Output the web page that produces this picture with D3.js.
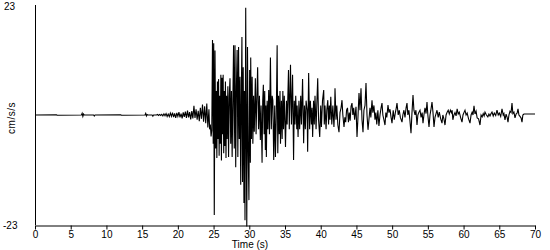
<!DOCTYPE html>
<html><head><meta charset="utf-8">
<script src="https://cdn.jsdelivr.net/npm/d3@7"></script>
<style>
body{margin:0;background:#fff;}
svg text{font-family:"Liberation Sans",Arial,sans-serif;font-size:10px;fill:#000;}
</style></head>
<body><svg id="c" width="550" height="250"></svg>
<script>
const xTicks = [0,5,10,15,20,25,30,35,40,45,50,55,60,65,70];
const yLabels = ["23","-23"];
const xTitle = "Time (s)";
const yTitle = "cm/s/s";

const times = [
0,3.0,3.1,6.5,6.6,6.7,6.8,6.9,8.2,8.3,8.4,12.0,12.1,15.4,15.5,15.6,15.7,15.8,16.4,16.5,16.6,17.0,
17.15,17.3,17.45,17.6,17.75,17.9,18.05,18.2,18.35,18.5,18.65,18.8,18.95,19.1,19.25,19.4,19.55,19.7,19.85,20.0,20.15,20.3,20.45,20.6,20.75,20.9,21.05,21.2,21.35,21.5,21.65,21.8,21.95,22.1,22.25,22.4,22.55,22.7,22.85,23.0,23.15,23.3,23.45,23.6,23.75,23.9,24.05,24.2,24.35,24.45,24.55,24.65,24.75,
24.85,24.95,25.02,25.1,25.2,25.3,25.38,25.46,25.54,25.62,25.7,25.78,25.86,25.94,26.02,26.1,26.18,26.26,26.34,26.42,26.5,26.58,26.66,26.74,26.82,
26.9,27.0,27.1,27.2,27.3,27.4,27.5,27.6,27.7,27.8,27.9,28.0,28.1,28.2,28.3,28.4,28.5,28.6,28.7,28.8,28.9,28.97,29.05,29.15,29.25,29.32,29.4,29.5,29.6,29.65,29.75,29.85,29.95,30.05,30.15,30.2,30.3,30.4,
30.5,30.6,30.7,30.85,30.95,31.05,31.17,31.3,31.42,31.55,31.65,31.79,31.88,31.97,32.08,32.16,32.25,32.32,32.39,32.5,32.6,32.72,32.82,32.96,33.08,33.2,33.3,33.42,33.56,33.66,33.78,33.9,33.99,34.1,34.2,34.3,34.37,34.5,34.6,34.7,34.79,34.9,35.07,35.2,35.3,35.49,35.6,35.77,35.9,36.06,36.2,36.3,36.4,36.5,36.65,36.7,36.83,36.95,37.05,37.2,37.3,37.46,37.61,37.72,37.85,37.95,38.1,38.17,38.31,38.45,38.55,38.7,38.78,38.87,39.0,39.1,39.2,39.35,39.45,39.58,39.7,39.86,40.0,40.1,40.25,40.42,40.5,40.6,40.75,40.85,40.99,41.1,41.2,41.3,41.41,41.55,41.7,41.85,41.95,
42.0,42.14,42.25,42.4,42.56,42.7,42.85,42.98,43.1,43.26,43.38,43.5,43.62,43.75,43.88,44.0,44.12,44.25,44.38,44.5,44.62,44.75,44.94,45.08,45.2,45.36,45.5,45.64,45.78,45.92,46.05,46.2,46.34,46.48,46.62,46.75,46.9,47.02,47.18,47.3,47.45,47.6,47.72,47.85,48.0,48.15,48.3,48.45,48.58,48.7,48.85,49.0,49.12,49.25,49.42,49.55,49.7,49.85,49.98,50.15,50.3,50.45,50.58,50.68,50.85,51.0,51.15,51.38,51.5,51.65,51.8,51.95,52.08,52.2,52.35,52.48,52.64,52.76,52.92,53.05,53.2,53.33,53.48,53.6,53.72,53.9,54.05,54.2,54.32,54.45,54.6,54.75,54.88,55.0,55.16,55.3,55.42,55.58,55.72,55.86,
56.0,56.15,56.28,56.45,56.6,56.8,56.98,57.1,57.25,57.4,57.55,57.7,57.85,58.0,58.15,58.3,58.4,58.5,58.65,58.8,58.95,59.1,59.25,59.4,59.6,59.78,59.92,60.05,60.2,60.35,60.5,60.7,60.9,61.05,61.2,61.32,61.46,61.6,61.75,61.9,62.1,62.3,62.45,62.6,62.75,62.88,63.0,63.2,63.4,63.55,63.7,63.85,63.98,64.15,64.3,64.5,64.68,64.85,65.0,65.2,65.38,65.55,65.65,65.8,65.95,66.1,66.22,66.35,66.5,66.65,66.78,66.9,67.05,67.2,67.35,67.5,67.62,67.75,67.9,68.05,68.18,68.3,68.45,68.6,70.0
];

const accel = [
0,0.05,-0.05,0,0.35,-0.3,0.2,0,0,-0.2,0,0.05,-0.05,0,0.35,-0.2,0.1,0,0,-0.25,0,0,
0.1,-0.1,0.12,-0.08,0.15,-0.2,0.25,-0.15,0.3,-0.3,0.2,-0.35,0.4,-0.3,0.5,-0.45,0.35,-0.6,0.45,-0.3,0.6,-0.5,0.3,-0.7,0.55,-0.4,0.7,-0.6,0.9,-0.5,0.6,-0.9,0.8,-0.7,1.9,-0.6,1.2,-1.0,0.9,-1.3,1.5,-0.8,2.2,-1.4,1.8,-1.7,2.4,-2.6,1.2,-3.0,-2.0,-4.5,-3.2,
15.7,-6,15,-20.9,13.5,-7,5,-9,7,-5,7.5,-8.5,4,-6,8.4,-9.5,7.8,-4,8.4,-8,5,-6.5,7,-9,4,
-5,6,-8.8,4,7.7,-6,5,-8.8,3,14.6,-7,14.6,-10.9,6,13.6,-8.8,14.2,-5,8,-14.6,6,16.3,-14,10,-18.4,5,-22,22.4,-10,-23.3,14.2,-8,-17.8,9.4,-10,12,-5,8,
-6,4,-3.5,7.7,-4,3,10,-3,4,-5.2,2,-10,3,6.3,-4,5,-7.3,2,-8.8,3,-3,5.2,-4,12,-3,4,3,-9.4,2,-8.8,0,14.6,-8,4,-4,5,-6,3,-5,5,-3,4,-6.7,3,-2,9.4,-3,10.5,-2,8.4,-9.4,3,-2,4,-3,2,-4.6,3,-3,4,-2,7.5,-5.9,2,-3,3,1,-7.7,8.8,-3,3,-2,1.5,-4.6,3,-2,4,-3,2,7.7,-1,-4.6,2,-2.5,3,5.2,-2,2,-3,1,3.1,-2,2,-1,3.8,-2,2,-2.5,1,
5.6,-1,2,-2.1,-3.6,0.5,1.5,3.1,0,-2.5,-0.5,-1.5,1,1.5,-1.5,0.5,-1.2,1.8,2.5,0,1.5,-1,1.7,-4.6,-1,4.6,1,5.6,-1,-3.6,1,2,6.7,0,-3.1,-1,1.5,-0.5,3.1,0.5,2,-1,0.5,-2,1,-2.3,0,1.5,2.5,0,-1,-2.1,0.5,-0.5,2.1,0.5,1.2,-0.5,-1.7,1,-1,0.5,1.5,2.5,0,1,-0.5,-1.5,0,1,-0.5,1.5,2.5,0,1,-1,-3.8,0,4.2,1,0,1,-2.1,0,0.5,1,-0.5,0.5,-1.7,0,1.5,0.3,2.7,0,-2.5,0,1,2.7,0.5,-2.5,
-0.5,0.3,1,-0.5,0.6,-0.8,-1.7,0,-0.8,-2.1,0,0.6,1,0.2,1,0.5,1,-1,0,0.5,-0.2,1.3,0.2,0.6,-0.6,-1.5,0,0.5,1,0,0.4,-0.8,-1.7,0,0.6,0,1.9,0.2,0.8,-0.6,-0.8,-2.1,0,-0.4,0.3,-0.2,0.6,0,-0.4,0.2,-0.2,0.3,0.6,-0.2,0.4,-0.1,1,0,0.4,-0.3,1.3,0,0.3,-1,0.2,-0.5,-1.5,0,0.8,0.5,2.5,0.3,0.6,-0.6,0.2,0.4,1.3,0,-0.3,-0.6,-1.5,0,0.2,0.2,0.2
];

const svg = d3.select("#c");
const x = d3.scaleLinear().domain([0,70]).range([35,535]);
const y = d3.scaleLinear().domain([-23,23]).range([225,5]);

const data = times.map((t,i)=>({t, v: accel[i]}));

// x axis
const xa = svg.append("g").attr("transform","translate(0,225.5)")
  .call(d3.axisBottom(x).tickValues(xTicks).tickSize(4).tickSizeOuter(0).tickPadding(1));
xa.select(".domain").attr("stroke","#000");
xa.selectAll("line").attr("stroke","#000");
xa.selectAll("text").attr("font-size","10px").attr("font-family","Liberation Sans, Arial, sans-serif").attr("fill","#000");

// y axis line
svg.append("line").attr("x1",35.5).attr("x2",35.5).attr("y1",y(23)).attr("y2",y(-23)).attr("stroke","#000");

svg.append("text").attr("x",4).attr("y",y(23)+5).text(yLabels[0]);
svg.append("text").attr("x",3).attr("y",y(-23)+4).text(yLabels[1]);

svg.append("text").attr("x",250).attr("y",247.5).attr("text-anchor","middle").attr("font-size","9.5px").text(xTitle);
svg.append("text").attr("transform","translate(15,118) rotate(-90)").attr("text-anchor","middle")
  .attr("font-size","9px").attr("letter-spacing","0.5px").text(yTitle);

const line = d3.line().x(d=>x(d.t)).y(d=>y(d.v));
svg.append("path").datum(data).attr("d",line).attr("fill","none").attr("stroke","#000").attr("stroke-width",1.1);
</script></body></html>
